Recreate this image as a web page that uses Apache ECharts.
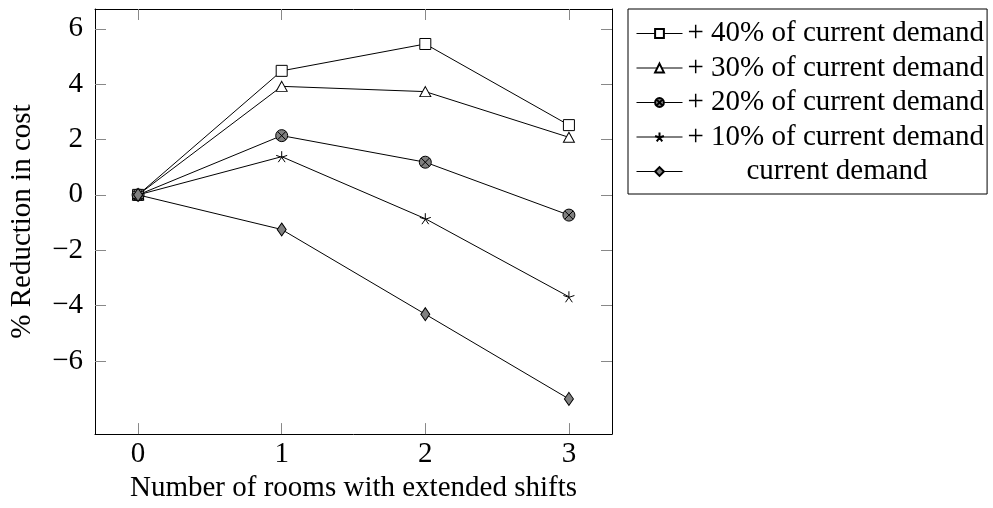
<!DOCTYPE html>
<html>
<head>
<meta charset="utf-8">
<script src="https://cdn.jsdelivr.net/npm/echarts@6/dist/echarts.min.js"></script>
<style>html,body{margin:0;padding:0;background:#fff;}#chart{width:993px;height:508px;}</style>
</head>
<body>
<div id="chart"></div>
<script>
const rooms = [0, 1, 2, 3];
const seriesNames = ['+ 40% of current demand', '+ 30% of current demand', '+ 20% of current demand', '+ 10% of current demand', 'current demand'];
const plus40 = [0, 4.48, 5.45, 2.52];
const plus30 = [0, 3.92, 3.73, 2.08];
const plus20 = [0, 2.14, 1.18, -0.73];
const plus10 = [0, 1.38, -0.86, -3.68];
const current = [0, -1.25, -4.31, -7.37];
const xTicks = [0, 1, 2, 3];
const yTicks = [-6, -4, -2, 0, 2, 4, 6];

const FONT = 'Liberation Serif';
const FS = 29;
const otimes = 'path://M1,0 A1,1 0 1,1 -1,0 A1,1 0 1,1 1,0 Z M-0.707,-0.707 L0.707,0.707 M-0.707,0.707 L0.707,-0.707';
const star = 'path://M0,0 L0,-1 M0,0 L-0.951,-0.309 M0,0 L-0.588,0.809 M0,0 L0.588,0.809 M0,0 L0.951,-0.309';

function pairs(vals) { return rooms.map((r, i) => [r, vals[i]]); }

const styles = [
  { symbol: 'rect', size: 11, fill: '#fff' },
  { symbol: 'triangle', size: [11, 10], fill: '#fff' },
  { symbol: otimes, size: 12, fill: '#808080' },
  { symbol: star, size: 11, fill: 'none' },
  { symbol: 'diamond', size: [9, 13], fill: '#808080' }
];
const allData = [plus40, plus30, plus20, plus10, current];

const chart = echarts.init(document.getElementById('chart'));
const tickStyle = { color: '#888', width: 1 };
chart.setOption({
  animation: false,
  textStyle: { fontFamily: FONT },
  grid: { left: 95, right: 381, top: 9, bottom: 69 },
  legend: {
    orient: 'vertical', left: 628, top: 9,
    padding: [10, 3, 8, 8],
    itemWidth: 46, itemHeight: 11, itemGap: 5.5,
    borderColor: '#000', borderWidth: 1,
    lineStyle: { width: 1, color: '#000' },
    data: seriesNames,
    formatter: n => n === 'current demand' ? '{c|' + n + '}' : '{t|' + n + '}',
    textStyle: {
      fontFamily: FONT, fontSize: FS, color: '#000',
      rich: {
        t: { fontFamily: FONT, fontSize: FS, color: '#000', width: 299, align: 'left' },
        c: { fontFamily: FONT, fontSize: FS, color: '#000', width: 299, align: 'center' }
      }
    }
  },
  xAxis: [
    {
      type: 'value', min: -0.3, max: 3.3, position: 'bottom',
      name: 'Number of rooms with extended shifts', nameLocation: 'middle', nameGap: 39,
      nameTextStyle: { fontFamily: FONT, fontSize: FS, color: '#000' },
      axisLine: { show: true, onZero: false, lineStyle: { color: '#000', width: 1 } },
      axisTick: { show: true, inside: true, length: 11, lineStyle: tickStyle, customValues: xTicks },
      axisLabel: { fontFamily: FONT, fontSize: FS, color: '#000', margin: 6, customValues: xTicks },
      splitLine: { show: false }
    },
    {
      type: 'value', min: -0.3, max: 3.3, position: 'top',
      axisLine: { show: true, onZero: false, lineStyle: { color: '#000', width: 1 } },
      axisTick: { show: true, inside: true, length: 11, lineStyle: tickStyle, customValues: xTicks },
      axisLabel: { show: false },
      splitLine: { show: false }
    }
  ],
  yAxis: [
    {
      type: 'value', min: -8.64, max: 6.714, position: 'left',
      name: '% Reduction in cost', nameLocation: 'middle', nameGap: 58,
      nameTextStyle: { fontFamily: FONT, fontSize: FS, color: '#000' },
      axisLine: { show: true, onZero: false, lineStyle: { color: '#000', width: 1 } },
      axisTick: { show: true, inside: true, length: 11, lineStyle: tickStyle, customValues: yTicks },
      axisLabel: {
        fontFamily: FONT, fontSize: FS, color: '#000', margin: 12, customValues: yTicks,
        formatter: v => v < 0 ? '\u2212' + Math.abs(v) : String(v)
      },
      splitLine: { show: false }
    },
    {
      type: 'value', min: -8.64, max: 6.714, position: 'right',
      axisLine: { show: true, onZero: false, lineStyle: { color: '#000', width: 1 } },
      axisTick: { show: true, inside: true, length: 11, lineStyle: tickStyle, customValues: yTicks },
      axisLabel: { show: false },
      splitLine: { show: false }
    }
  ],
  series: seriesNames.map((name, i) => ({
    name: name,
    type: 'line',
    xAxisIndex: 0, yAxisIndex: 0,
    data: pairs(allData[i]),
    symbol: styles[i].symbol,
    symbolSize: styles[i].size,
    showAllSymbol: true,
    lineStyle: { color: '#000', width: 1 },
    itemStyle: { color: styles[i].fill, borderColor: '#000', borderWidth: 1 },
    emphasis: { disabled: true },
    z: 2 + i
  }))
});
</script>
</body>
</html>
